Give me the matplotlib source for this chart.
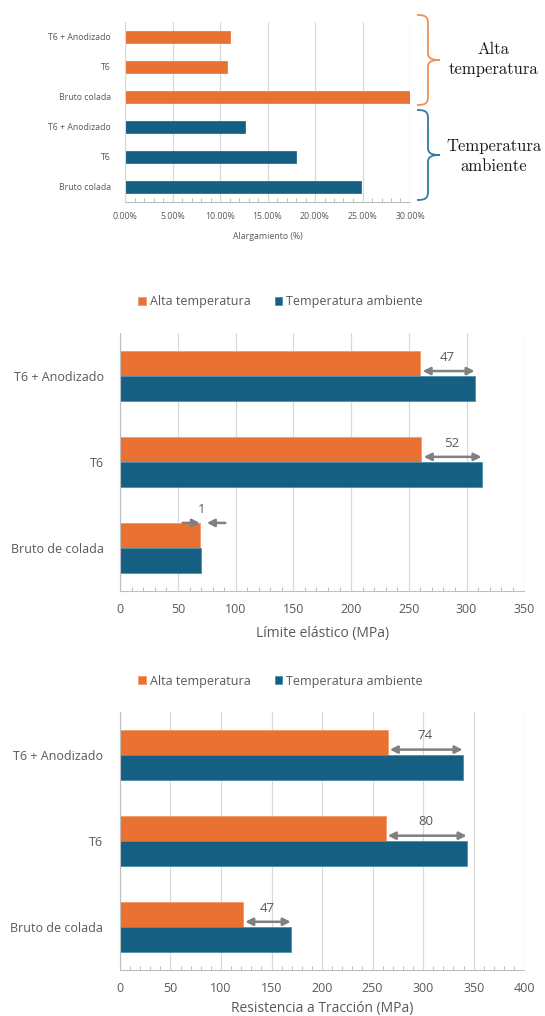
import matplotlib
matplotlib.use('Agg')
import matplotlib.pyplot as plt
from matplotlib.path import Path
from matplotlib.patches import PathPatch
from matplotlib.ticker import MultipleLocator, FuncFormatter

# --- data ---
categories = ['Bruto de colada', 'T6', 'T6 + Anodizado']
limite_alta = [69, 261, 260]
limite_amb = [70, 313, 307]
traccion_alta = [122, 263, 265]
traccion_amb = [169, 343, 339]

alarg_labels = ['Bruto colada', 'T6', 'T6 + Anodizado']
alarg_alta = [0.30, 0.107, 0.1105]
alarg_amb = [0.248, 0.18, 0.1266]

series_names = ['Alta temperatura', 'Temperatura ambiente']

ORANGE = '#E97132'
BLUE = '#156082'
GRAY_TXT = '#595959'
GRID = '#d9d9d9'
ARROW = '#808080'

plt.rcParams['font.family'] = ['Open Sans', 'DejaVu Sans']

W, H = 545, 1016
fig = plt.figure(figsize=(W / 100, H / 100), dpi=100)


def px_axes(x0, x1, y0, y1):
    # pixel box (y from top) -> figure axes
    return fig.add_axes([x0 / W, 1 - y1 / H, (x1 - x0) / W, (y1 - y0) / H])


def style_axes(ax, label_size):
    for s in ['top', 'right']:
        ax.spines[s].set_visible(False)
    ax.spines['left'].set_color('#bfbfbf')
    ax.spines['bottom'].set_color('#bfbfbf')
    ax.grid(axis='x', color=GRID, lw=0.9)
    ax.set_axisbelow(True)
    ax.tick_params(axis='both', which='major', length=0, colors=GRAY_TXT,
                   labelsize=label_size)
    ax.tick_params(axis='x', which='minor', direction='in', length=3,
                   color='#bfbfbf', width=0.7)
    ax.tick_params(axis='y', which='minor', length=0)


# --- top chart: alargamiento ---
ax0 = px_axes(125, 410, 22, 202)
ypos = list(range(6))
vals = alarg_amb + alarg_alta
cols = [BLUE] * 3 + [ORANGE] * 3
ax0.barh(ypos, vals, height=0.42, color=cols, edgecolor=cols, lw=0.5)
ax0.set_yticks(ypos)
ax0.set_yticklabels(alarg_labels + alarg_labels)
ax0.set_ylim(-0.5, 5.5)
ax0.set_xlim(0, 0.30)
ax0.xaxis.set_major_locator(MultipleLocator(0.05))
ax0.xaxis.set_minor_locator(MultipleLocator(0.01))
ax0.xaxis.set_major_formatter(FuncFormatter(lambda v, p: f'{v * 100:.2f}%'))
style_axes(ax0, 6.3)
ax0.spines['left'].set_color(GRID)
ax0.tick_params(axis='y', pad=10)
ax0.tick_params(axis='x', pad=7)
ax0.set_xlabel('Alargamiento (%)', fontsize=6.3, color=GRAY_TXT, labelpad=8)


def brace(x, ytop, ybot, color):
    tip = 12
    ym = (ytop + ybot) / 2
    pts = [(x - 11, ytop), (x - 2, ytop), (x, ytop + 2), (x, ytop + 9),
           (x, ym - 7),
           (x, ym - 1), (x + 5, ym), (x + tip, ym),
           (x + 5, ym), (x, ym + 1), (x, ym + 7),
           (x, ybot - 9),
           (x, ybot - 2), (x - 2, ybot), (x - 11, ybot)]
    codes = [Path.MOVETO, Path.CURVE4, Path.CURVE4, Path.CURVE4,
             Path.LINETO,
             Path.CURVE4, Path.CURVE4, Path.CURVE4,
             Path.CURVE4, Path.CURVE4, Path.CURVE4,
             Path.LINETO,
             Path.CURVE4, Path.CURVE4, Path.CURVE4]
    verts = [(px / W, 1 - py / H) for px, py in pts]
    fig.patches.append(PathPatch(Path(verts, codes), transform=fig.transFigure,
                                 fill=False, edgecolor=color, lw=1.3))


brace(428, 15, 105, '#F0905A')
brace(428, 110, 200, '#2E7BA6')
fig.text(493 / W, 1 - 59 / H, 'Alta\ntemperatura', family='cmr10', fontsize=12,
         ha='center', va='center', linespacing=1.4, color='#1a1a1a')
fig.text(494 / W, 1 - 156 / H, 'Temperatura\nambiente', family='cmr10', fontsize=12,
         ha='center', va='center', linespacing=1.4, color='#1a1a1a')


# --- grouped charts ---
def grouped(box, alta, amb, xmax, xlabel, legend_y, label_pad):
    ax = px_axes(*box)
    h = 0.29
    y = list(range(len(categories)))
    b1 = ax.barh([v + h / 2 for v in y], alta, height=h, color=ORANGE,
                 edgecolor='#f29a6a', lw=0.6, label=series_names[0])
    b2 = ax.barh([v - h / 2 for v in y], amb, height=h, color=BLUE,
                 edgecolor='#4d8fb0', lw=0.6, label=series_names[1])
    ax.set_yticks(y)
    ax.set_yticklabels(categories)
    ax.set_ylim(-0.5, len(categories) - 0.5)
    ax.set_xlim(0, xmax)
    ax.xaxis.set_major_locator(MultipleLocator(50))
    ax.xaxis.set_minor_locator(MultipleLocator(10))
    style_axes(ax, 9)
    ax.tick_params(axis='y', pad=12)
    ax.tick_params(axis='x', pad=9)
    ax.set_xlabel(xlabel, fontsize=10, color=GRAY_TXT, labelpad=label_pad)

    aprops = dict(arrowstyle='-|>', color=ARROW, lw=1.8, mutation_scale=11,
                  shrinkA=0, shrinkB=0)
    for yi, a, b in zip(y, alta, amb):
        d = b - a
        if d < 5:
            ya = yi + h
            ax.annotate('', xy=(a, ya), xytext=(a - 15, ya), arrowprops=aprops)
            ax.annotate('', xy=(b + 5, ya), xytext=(b + 21, ya), arrowprops=aprops)
            ax.text((a + b) / 2 + 1, yi + 0.45, f'{d:d}', ha='center', va='center',
                    fontsize=9.5, color=GRAY_TXT)
        else:
            ya = yi + 0.06
            ax.annotate('', xy=(b, ya), xytext=(a + 2, ya),
                        arrowprops=dict(aprops, arrowstyle='<|-|>'))
            ax.text((a + b) / 2, yi + 0.22, f'{d:d}', ha='center', va='center',
                    fontsize=9.5, color=GRAY_TXT)

    fig.legend(handles=[b1, b2], loc='center', bbox_to_anchor=(0.515, 1 - legend_y / H),
               ncol=2, frameon=False, fontsize=9, handlelength=0.6,
               handleheight=0.6, handletextpad=0.35, columnspacing=1.9,
               labelcolor=GRAY_TXT)
    return ax


grouped((120.3, 524.2, 333.3, 590.7), limite_alta, limite_amb, 350,
        'Límite elástico (MPa)', 302, 7)
grouped((119.9, 524.2, 711.7, 970), traccion_alta, traccion_amb, 400,
        'Resistencia a Tracción (MPa)', 681, 4)

fig.savefig('out.png', dpi=100, facecolor='white')
